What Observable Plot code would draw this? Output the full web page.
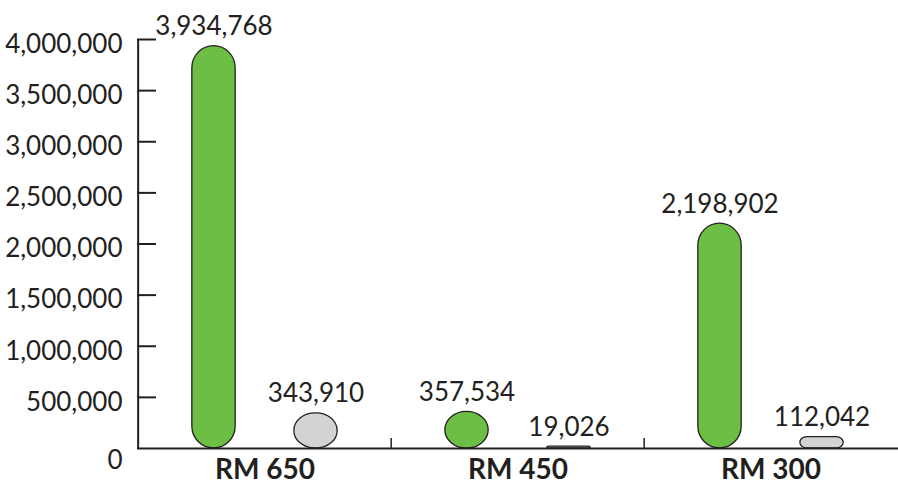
<!DOCTYPE html>
<html>
<head>
<meta charset="utf-8">
<script src="https://cdn.jsdelivr.net/npm/d3@7"></script>
<script src="https://cdn.jsdelivr.net/npm/@observablehq/plot@0.6"></script>
<style>
  html, body { margin: 0; padding: 0; background: #ffffff; }
  #chart { width: 898px; height: 487px; }
</style>
</head>
<body>
<div id="chart"></div>
<script>
const categories = ["RM 650", "RM 450", "RM 300"];
const greenValues = [3934768, 357534, 2198902];
const grayValues = [343910, 19026, 112042];
const yTicks = [0, 500000, 1000000, 1500000, 2000000, 2500000, 3000000, 3500000, 4000000];

const W = 898, H = 487;
const mL = 137, mR = 0, mT = 39, mB = 39;
const plotW = W - mL - mR, plotH = H - mT - mB;
const bw = plotW / categories.length;
const barW = 44, offset = 51;
const ink = "#231f20";
const fmt = d3.format(",");

const greenTable = categories.map((c, i) => ({c, v: greenValues[i]}));
const grayTable = categories.map((c, i) => ({c, v: grayValues[i]}));

const barOpts = (dx, fill) => ({
  x: "c", y: "v", dx,
  insetLeft: (bw - barW) / 2, insetRight: (bw - barW) / 2,
  rx: barW / 2, fill, stroke: ink, strokeWidth: 1.3,
  className: "pill"
});
const labelOpts = (dx) => ({
  x: "c", y: "v", text: d => fmt(d.v), dx, dy: -11,
  lineAnchor: "bottom", fontSize: 26, fill: ink
});

const chart = Plot.plot({
  width: W, height: H,
  marginLeft: mL, marginRight: mR, marginTop: mT, marginBottom: mB,
  style: {fontFamily: "Lato, 'Open Sans', sans-serif", color: ink, background: "#fff"},
  x: {type: "band", domain: categories, padding: 0, axis: null},
  y: {domain: [0, 4000000], axis: null},
  marks: [
    Plot.barY(greenTable, barOpts(-offset, "#6dbe45")),
    Plot.barY(grayTable, barOpts(offset, "#d1d3d4")),
    Plot.text(greenTable, labelOpts(-offset)),
    Plot.text(grayTable, labelOpts(offset)),
    Plot.ruleX([categories[0]], {x: d => d, dx: -bw / 2, stroke: ink, strokeWidth: 2}),
    Plot.ruleY(yTicks.slice(1), {y: d => d, insetRight: plotW - 19, stroke: ink, strokeWidth: 2}),
    Plot.ruleX(categories.slice(1), {x: d => d, dx: -bw / 2, insetTop: plotH - 10, stroke: ink, strokeWidth: 1.5}),
    Plot.ruleY([0], {stroke: ink, strokeWidth: 2}),
    Plot.axisY(yTicks.slice(1), {label: null, tickSize: 0, tickPadding: 15, tickFormat: fmt, fontSize: 26, dy: 5, fill: ink}),
    Plot.axisY([0], {label: null, tickSize: 0, tickPadding: 15, tickFormat: fmt, fontSize: 26, dy: 12, fill: ink}),
    Plot.axisX({label: null, tickSize: 0, tickPadding: 11, fontSize: 28, fontWeight: "bold", fill: ink})
  ]
});
// Round each pill: corners limited by half-width and half-height.
chart.querySelectorAll("g.pill rect").forEach(r => {
  const w = +r.getAttribute("width"), h = +r.getAttribute("height");
  const ry = Math.min(h / 2, barW / 2);
  const rx = Math.min(w / 2, barW / 2, h * 0.6);
  r.setAttribute("rx", rx);
  r.setAttribute("ry", ry);
});
document.getElementById("chart").appendChild(chart);
</script>
</body>
</html>
